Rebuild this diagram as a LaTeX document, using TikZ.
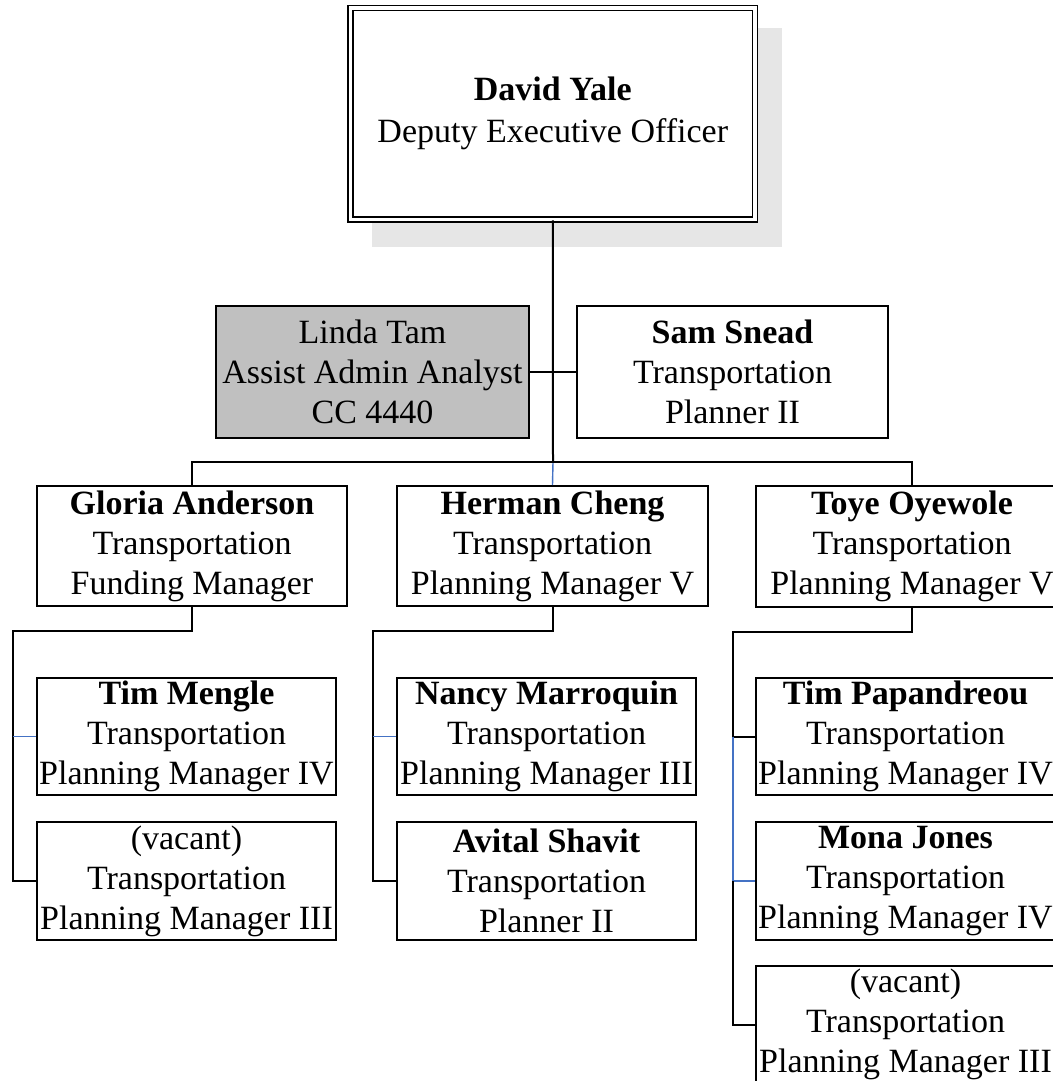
\documentclass[tikz,border=0pt]{standalone}
\usepackage{fontspec}
\setmainfont{Liberation Serif}
\usetikzlibrary{positioning}
\definecolor{connblue}{RGB}{68,114,196}
\definecolor{lindagray}{RGB}{192,192,192}
\definecolor{shadowgray}{RGB}{230,230,230}
\tikzset{
  box/.style={draw=black, line width=1pt, fill=white, inner sep=0pt, align=center,
    font=\fontsize{17}{20}\selectfont, execute at begin node={\rule{0pt}{16pt}}},
  conn/.style={draw=black, line width=1pt},
  blueconn/.style={draw=connblue, line width=0.7pt},
}
\begin{document}
\begin{tikzpicture}[x=0.5pt,y=-0.5pt]
\clip (0,0) rectangle (1053,1081);
\useasboundingbox (0,0) rectangle (1053,1081);
\fill[white] (0,0) rectangle (1053,1081);
% shadow of top box
\fill[shadowgray] (372,28) rectangle (782,247);
% boxes
\node[box, draw=black, line width=0.9pt, double=white, double distance=1.6pt,
      minimum width=202.25pt, minimum height=105.75pt] (top) at (552.75,113.75)
      {\textbf{David Yale}\\[1pt]Deputy Executive Officer};
\node[box, fill=lindagray, minimum width=156.5pt, minimum height=66pt] (linda) at (372.5,372)
      {Linda Tam\\Assist Admin Analyst\\CC 4440};
\node[box, minimum width=155.5pt, minimum height=66pt] (sam) at (732.5,372)
      {\textbf{Sam Snead}\\Transportation\\Planner II};
\node[box, minimum width=155pt, minimum height=60pt] (gloria) at (192,546)
      {\textbf{Gloria Anderson}\\Transportation\\Funding Manager};
\node[box, minimum width=155.5pt, minimum height=60pt] (herman) at (552.5,546)
      {\textbf{Herman Cheng}\\Transportation\\Planning Manager V};
\node[box, minimum width=156pt, minimum height=60.5pt] (toye) at (912,546.25)
      {\textbf{Toye Oyewole}\\Transportation\\Planning Manager V};
\node[box, minimum width=149.5pt, minimum height=58.5pt] (mengle) at (186.5,736.5)
      {\textbf{Tim Mengle}\\Transportation\\Planning Manager IV};
\node[box, minimum width=149.5pt, minimum height=59pt] (vacA) at (186.5,881)
      {(vacant)\\Transportation\\Planning Manager III};
\node[box, minimum width=149.5pt, minimum height=58.5pt] (nancy) at (546.5,736.5)
      {\textbf{Nancy Marroquin}\\Transportation\\Planning Manager III};
\node[box, minimum width=149.5pt, minimum height=59pt] (avital) at (546.5,881)
      {\textbf{Avital Shavit}\\Transportation\\Planner II};
\node[box, minimum width=149.5pt, minimum height=58.5pt] (papa) at (905.5,736.5)
      {\textbf{Tim Papandreou}\\Transportation\\Planning Manager IV};
\node[box, minimum width=149.5pt, minimum height=59pt] (mona) at (905.5,881)
      {\textbf{Mona Jones}\\Transportation\\Planning Manager IV};
\node[box, minimum width=149.5pt, minimum height=58.5pt] (vacB) at (905.5,1024.5)
      {(vacant)\\Transportation\\Planning Manager III};
% connector helper coordinates
\coordinate (bus) at (553,462);
\coordinate (gcol) at (13,631);
\coordinate (hcol) at (373,631);
\coordinate (tcol) at (733,632);
% top level
\draw[conn] (top.south) -- (bus);
\draw[blueconn] (bus) -- (herman.north);
\draw[conn] (linda.east) -- (sam.west);
\draw[conn] (gloria.north) |- (bus) -| (toye.north);
% Gloria's team
\draw[conn] (gloria.south) |- (gcol) |- (vacA.west);
\draw[blueconn] (mengle.west) -- (mengle.west -| gcol);
% Herman's team
\draw[conn] (herman.south) |- (hcol) |- (avital.west);
\draw[blueconn] (nancy.west) -- (nancy.west -| hcol);
% Toye's team
\coordinate (tpapa) at (papa.west -| tcol);
\coordinate (tmona) at (mona.west -| tcol);
\draw[conn] (toye.south) |- (tcol) -- (tpapa) -- (papa.west);
\draw[blueconn] (tpapa) -- (tmona) -- (mona.west);
\draw[conn] (tmona) |- (vacB.west);
\end{tikzpicture}
\end{document}
